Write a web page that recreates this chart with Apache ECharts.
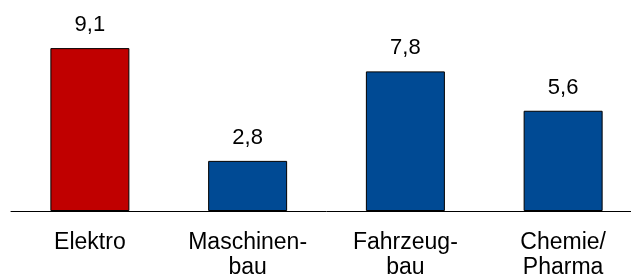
<!DOCTYPE html>
<html>
<head>
<meta charset="utf-8">
<script src="https://cdn.jsdelivr.net/npm/echarts@6/dist/echarts.min.js"></script>
<style>html,body{margin:0;padding:0;background:#fff;overflow:hidden}#c{width:642px;height:280px}</style>
</head>
<body>
<div id="c"></div>
<script>
const categories = ['Elektro', 'Maschinen-\nbau', 'Fahrzeug-\nbau', 'Chemie/\nPharma'];
const values = [9.1, 2.8, 7.8, 5.6];
const barColors = ['#c00000', '#004a94', '#004a94', '#004a94'];

const chart = echarts.init(document.getElementById('c'), null, {renderer: 'canvas'});
chart.setOption({
  animation: false,
  grid: {left: 11, top: 32, right: 0, bottom: 65, containLabel: false},
  xAxis: {
    type: 'category',
    data: categories,
    axisLine: {show: true, lineStyle: {color: '#000', width: 1}},
    axisTick: {show: false},
    axisLabel: {
      color: '#000', fontFamily: 'Liberation Sans, Arial, sans-serif', fontSize: 23,
      lineHeight: 25, margin: 19, interval: 0
    }
  },
  yAxis: {
    type: 'value', min: 0, max: 10, show: false,
    splitLine: {show: false}
  },
  series: [{
    type: 'bar',
    barWidth: 79,
    data: values.map((v, i) => ({value: v, itemStyle: {color: barColors[i]}})),
    itemStyle: {borderColor: '#000', borderWidth: 1},
    label: {
      show: true, position: 'top', distance: 12,
      color: '#000', fontFamily: 'Liberation Sans, Arial, sans-serif', fontSize: 22,
      formatter: p => String(p.value).replace('.', ',')
    }
  }]
});
</script>
</body>
</html>
